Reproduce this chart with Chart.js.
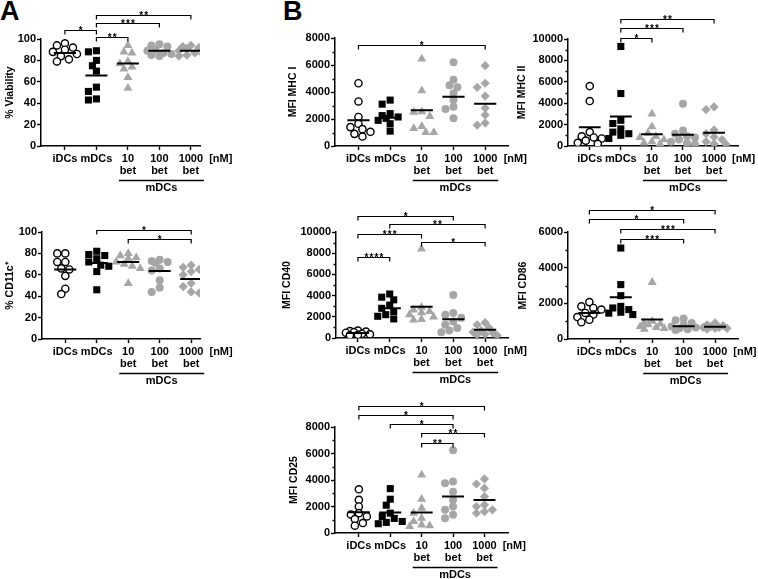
<!DOCTYPE html>
<html>
<head>
<meta charset="utf-8">
<script src="https://cdn.jsdelivr.net/npm/chart.js@4.4.1/dist/chart.umd.min.js"></script>
<style>
  html, body { margin: 0; padding: 0; background: #fff; }
  body { width: 758px; height: 579px; position: relative; overflow: hidden; }
  canvas { position: absolute; }
  .tag { position: absolute; font: bold 27px "Liberation Sans", Arial, sans-serif; line-height: 1; color: #000; }
</style>
</head>
<body>
<div class="tag" style="left:0px;top:-2px">A</div>
<div class="tag" style="left:283px;top:-2px">B</div>
<script>
// ---- values (one inner array per group: iDCs, mDCs, 10, 100, 1000 nM bet) ----
const groupLabels = ['iDCs', 'mDCs', ['10', 'bet'], ['100', 'bet'], ['1000', 'bet']];

const viabilityValues = [
  [96, 94, 92, 90, 88, 86, 84, 81, 79],
  [89, 88, 80, 75, 70, 55, 51, 44, 43],
  [94, 88, 87, 79, 77, 74, 72, 64, 54],
  [95, 94, 93, 90, 89, 87, 86, 85, 84],
  [94, 93, 92, 91, 89, 87, 86, 85, 84]
];
const viabilityMeans = [87, 66, 77, 89, 89];

const cd11cValues = [
  [80, 80, 72, 72, 66, 65, 59, 47, 42],
  [82, 79, 78, 75, 72, 69, 68, 63, 46],
  [80, 78, 76, 75, 72, 70, 68, 66, 52],
  [74, 73, 72, 71, 66, 64, 55, 48, 44],
  [69, 67, 65, 63, 60, 52, 49, 44, 43]
];
const cd11cMeans = [65, 71, 72, 63.5, 56];

const mhc1Values = [
  [4650, 3300, 2150, 1650, 1400, 1250, 1050, 900, 700],
  [3400, 3100, 2400, 2250, 2150, 2050, 1900, 1650, 1100],
  [6450, 4100, 2550, 2500, 2200, 1450, 1300, 1000, 1000],
  [6200, 4900, 4500, 4350, 3900, 3400, 2900, 2750, 2050],
  [5950, 4650, 4350, 3700, 2800, 2300, 1700, 1550]
];
const mhc1Means = [1900, 2100, 2650, 3650, 3130];

const mhc2Values = [
  [5600, 4200, 1300, 900, 800, 700, 500, 300, 200],
  [9300, 4900, 2400, 2100, 1600, 1300, 1150, 1000, 700],
  [3000, 1800, 1200, 900, 800, 600, 400, 300, 200],
  [3950, 1450, 1150, 900, 800, 600, 400, 250, 150],
  [3650, 3400, 1500, 1150, 850, 600, 400, 200, 150]
];
const mhc2Means = [1750, 2750, 1100, 1050, 1250];

const cd40Values = [
  [700, 650, 600, 550, 500, 400, 350, 300, 250],
  [4150, 3850, 3600, 3100, 2800, 2500, 2200, 2050, 1800],
  [8400, 2900, 2650, 2500, 2400, 2200, 2000, 1750, 1700],
  [4050, 2350, 2200, 1900, 1550, 1250, 950, 700, 550],
  [1450, 1250, 950, 700, 550, 450, 350, 300, 250]
];
const cd40Means = [470, 2800, 2950, 1780, 780];

const cd86Values = [
  [2070, 1830, 1740, 1650, 1460, 1370, 1230, 1080, 940],
  [5100, 3050, 2430, 1830, 1740, 1650, 1500, 1450, 1370],
  [3180, 1000, 900, 850, 800, 700, 650, 600, 550],
  [1150, 1050, 900, 800, 700, 650, 600, 550, 500],
  [900, 800, 750, 700, 650, 650, 600, 600, 550]
];
const cd86Means = [1460, 2340, 1100, 720, 690];

const cd25Values = [
  [3300, 2500, 2000, 1500, 1400, 1250, 1050, 750, 550],
  [3350, 2550, 2100, 1500, 1250, 1100, 870, 800, 700],
  [4380, 2550, 1880, 1500, 1120, 870, 620, 550, 500],
  [6250, 3880, 3750, 3120, 2500, 2000, 1750, 1380, 1120],
  [4080, 3700, 3380, 2750, 2120, 2000, 1750, 1620, 1500]
];
const cd25Means = [1560, 1550, 1550, 2750, 2500];

// ---- layout: canvas box and plot box in page pixels, brackets as [from, to, y value, stars] ----
const FONT = '"Liberation Sans", Arial, sans-serif';
const GREY = '#a6a6a6';

const panels = [
  { values: viabilityValues, means: viabilityMeans, title: '% Viability', titleX: 10,
    yMax: 100, yStep: 20, minor: 0, canvas: [0, 0, 250, 200], plot: [41, 39, 200, 146], xRange: [-0.76, 4.29],
    brackets: [[0, 1, 108, '*'], [1, 2, 102, '**'], [1, 3, 115, '***'], [1, 4, 122.5, '**']] },
  { values: cd11cValues, means: cd11cMeans, title: '% CD11c\u207A', titleX: 10.5,
    yMax: 100, yStep: 20, minor: 0, canvas: [0, 195, 250, 200], plot: [42, 232, 200, 339], xRange: [-0.74, 4.28],
    brackets: [[1, 4, 101.5, '*'], [2, 4, 93, '*']] },
  { values: mhc1Values, means: mhc1Means, title: 'MFI MHC I', titleX: 293,
    yMax: 8000, yStep: 2000, minor: 1000, canvas: [255, 0, 285, 200], plot: [335, 38, 508, 146], xRange: [-0.74, 4.72],
    brackets: [[0, 4, 7450, '*']] },
  { values: mhc2Values, means: mhc2Means, title: 'MFI MHC II', titleX: 522,
    yMax: 10000, yStep: 2000, minor: 1000, canvas: [505, 0, 253, 200], plot: [568, 39, 738, 146], xRange: [-0.7, 4.77],
    brackets: [[1, 2, 10100, '*'], [1, 3, 11000, '***'], [1, 4, 11900, '**']] },
  { values: cd40Values, means: cd40Means, title: 'MFI CD40', titleX: 287,
    yMax: 10000, yStep: 2000, minor: 1000, canvas: [255, 195, 285, 200], plot: [336, 232, 508, 338], xRange: [-0.69, 4.72],
    brackets: [[0, 3, 11550, '*'], [1, 4, 10800, '**'], [0, 2, 9800, '***'], [2, 4, 9050, '*'], [0, 1, 7600, '****']] },
  { values: cd86Values, means: cd86Means, title: 'MFI CD86', titleX: 523,
    yMax: 6000, yStep: 2000, minor: 1000, canvas: [505, 195, 253, 200], plot: [568, 232, 738, 339], xRange: [-0.68, 4.73],
    brackets: [[0, 4, 7250, '*'], [0, 3, 6750, '*'], [1, 4, 6180, '***'], [1, 3, 5620, '***']] },
  { values: cd25Values, means: cd25Means, title: 'MFI CD25', titleX: 294,
    yMax: 8000, yStep: 2000, minor: 1000, canvas: [255, 390, 285, 189], plot: [335, 427, 508, 533], xRange: [-0.76, 4.75],
    brackets: [[0, 4, 9580, '*'], [0, 3, 8880, '*'], [1, 3, 8200, '*'], [2, 4, 7550, '**'], [2, 3, 6830, '**']] }
];

const markers = [
  { pointStyle: 'circle',   pointRadius: 3.6, backgroundColor: '#fff', borderColor: '#000', borderWidth: 1.4 },
  { pointStyle: 'rect',     pointRadius: 5,   backgroundColor: '#000', borderColor: '#000', borderWidth: 0 },
  { pointStyle: 'triangle', pointRadius: 5.2, backgroundColor: GREY,   borderColor: GREY,   borderWidth: 0 },
  { pointStyle: 'circle',   pointRadius: 4,   backgroundColor: GREY,   borderColor: GREY,   borderWidth: 0 },
  { pointStyle: 'rectRot',  pointRadius: 4.6, backgroundColor: GREY,   borderColor: GREY,   borderWidth: 0 }
];

// dot-plot spread kept inside a ~26 px lane: take the first free slot, otherwise the least crowded one
function swarm(vals, idx, pxPerY, pxPerX) {
  const placed = [], d = 6.5;
  const slots = [0, -4, 4, -8, 8, -12, 12];
  return vals.map(v => {
    const py = v * pxPerY;
    let best = 0, bestGap = -1;
    for (const c of slots) {
      const gap = placed.reduce((m, q) => Math.min(m, Math.hypot(q[0] - c, q[1] - py)), Infinity);
      if (gap >= d) { best = c; break; }
      if (gap > bestGap) { bestGap = gap; best = c; }
    }
    placed.push([best, py]);
    return { x: idx + best / pxPerX, y: v };
  });
}

function makeDecor(p) {
  const [cx] = p.canvas;
  return {
    id: 'decor',
    afterDraw(chart) {
      const { ctx, chartArea: a, scales: { x, y } } = chart;
      const px = i => x.getPixelForValue(i);
      ctx.save();
      ctx.strokeStyle = '#000';
      ctx.fillStyle = '#000';

      // minor ticks on the y axis
      if (p.minor) {
        ctx.lineWidth = 1.4;
        ctx.beginPath();
        for (let v = p.minor; v < p.yMax; v += p.yStep) {
          const py = Math.round(y.getPixelForValue(v)) + 0.5;
          ctx.moveTo(a.left, py); ctx.lineTo(a.left - 2.5, py);
        }
        ctx.stroke();
      }

      // y title
      ctx.font = 'bold 10.5px ' + FONT;
      ctx.textAlign = 'center';
      ctx.textBaseline = 'middle';
      ctx.save();
      ctx.translate(p.titleX - cx, (a.top + a.bottom) / 2);
      ctx.rotate(-Math.PI / 2);
      ctx.fillText(p.title, 0, 0);
      ctx.restore();

      // unit and the "mDCs" group line under the treated lanes
      const gap = px(1) - px(0);
      ctx.font = 'bold 11px ' + FONT;
      ctx.fillText('[nM]', px(4) + 0.95 * gap, a.bottom + 13);
      ctx.lineWidth = 1.4;
      ctx.beginPath();
      ctx.moveTo(px(2) - 9, a.bottom + 34.5); ctx.lineTo(px(4) + 13, a.bottom + 34.5);
      ctx.stroke();
      ctx.fillText('mDCs', px(3) + 2, a.bottom + 42);

      // significance brackets
      ctx.lineWidth = 1.2;
      ctx.font = 'bold 10px ' + FONT;
      ctx.textBaseline = 'alphabetic';
      p.brackets.forEach(([from, to, v, stars]) => {
        const by = Math.round(y.getPixelForValue(v)) + 0.5;
        const x1 = px(from), x2 = px(to);
        ctx.beginPath();
        ctx.moveTo(x1, by + 4); ctx.lineTo(x1, by); ctx.lineTo(x2, by); ctx.lineTo(x2, by + 4);
        ctx.stroke();
        const n = stars.length, mid = (x1 + x2) / 2;
        for (let k = 0; k < n; k++) ctx.fillText('*', mid + (k - (n - 1) / 2) * 5, by + 3);
      });
      ctx.restore();
    }
  };
}

function buildPanel(p) {
  const [cx, cy, cw, ch] = p.canvas;
  const [left, top, right, bottom] = p.plot;
  const cv = document.createElement('canvas');
  cv.width = cw; cv.height = ch;
  cv.style.left = cx + 'px'; cv.style.top = cy + 'px';
  document.body.appendChild(cv);

  const pxPerY = (bottom - top) / p.yMax;
  const pxPerX = (right - left) / (p.xRange[1] - p.xRange[0]);

  const datasets = p.values.map((vals, i) => Object.assign({ data: swarm(vals, i, pxPerY, pxPerX) }, markers[i]));

  const meanPts = [];
  p.means.forEach((m, i) => { meanPts.push({ x: i - 0.35, y: m }, { x: i + 0.35, y: m }, { x: i + 0.5, y: null }); });
  datasets.push({ data: meanPts, showLine: true, spanGaps: false, borderColor: '#000', borderWidth: 2, pointRadius: 0, order: -1 });

  const tickFont = { family: FONT, size: 11, weight: 'bold', lineHeight: 1.1 };
  const axisGrid = { drawOnChartArea: false, tickLength: 4, tickColor: '#000', tickWidth: 1.4 };
  const axisBorder = { color: '#000', width: 1.5 };

  new Chart(cv, {
    type: 'scatter',
    data: { datasets },
    options: {
      responsive: false,
      animation: false,
      events: [],
      layout: { padding: { top: top - cy, right: cx + cw - right, left: 0, bottom: 0 } },
      plugins: { legend: { display: false }, tooltip: { enabled: false } },
      scales: {
        x: {
          type: 'linear', min: p.xRange[0], max: p.xRange[1],
          afterBuildTicks: ax => { ax.ticks = groupLabels.map((_, i) => ({ value: i })); },
          afterFit: ax => { ax.height = cy + ch - bottom; },
          border: axisBorder, grid: axisGrid,
          ticks: { callback: (v, i) => groupLabels[i], autoSkip: false, maxRotation: 0, minRotation: 0,
                   padding: 3, color: '#000', font: tickFont }
        },
        y: {
          min: 0, max: p.yMax,
          afterFit: ax => { ax.width = left - cx; },
          border: axisBorder, grid: axisGrid,
          ticks: { stepSize: p.yStep, callback: v => String(v), autoSkip: false, padding: 1,
                   color: '#000', font: tickFont }
        }
      }
    },
    plugins: [makeDecor(p)]
  });
}

panels.forEach(buildPanel);
</script>
</body>
</html>
